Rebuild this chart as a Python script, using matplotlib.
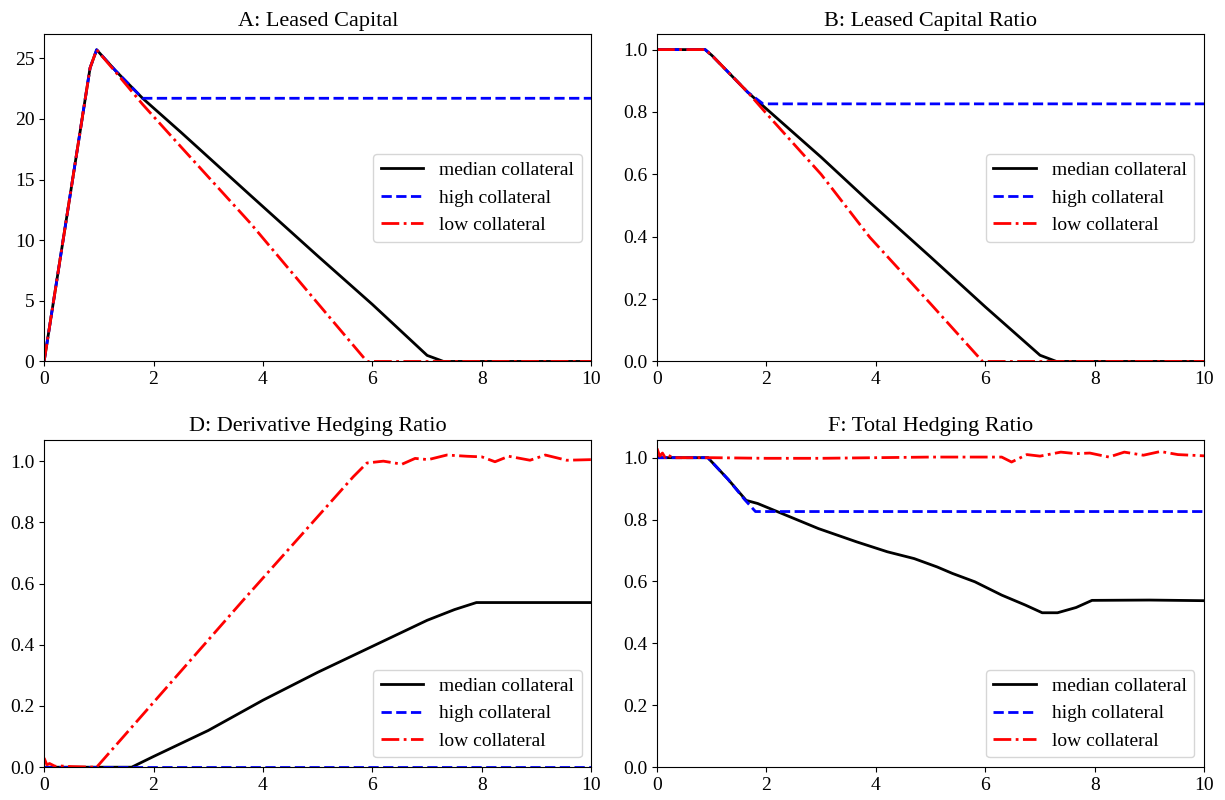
import matplotlib.pyplot as plt
import numpy as np

plt.rcParams['font.family'] = ['Liberation Serif', 'DejaVu Serif']
plt.rcParams['font.size'] = 11

# A: leased capital
t_a_med = [0, 0.84, 0.96, 1.3, 1.8, 2.5, 3.77, 5, 6, 7.0, 7.3, 10]
a_med = [0, 24.2, 25.7, 24.0, 21.7, 18.9, 13.7, 8.7, 4.7, 0.5, 0, 0]
t_a_high = [0, 0.84, 0.96, 1.3, 1.8, 10]
a_high = [0, 24.2, 25.7, 24.0, 21.7, 21.7]
t_a_low = [0, 0.84, 0.96, 1.3, 1.8, 2.5, 3.77, 5, 5.9, 10]
a_low = [0, 24.2, 25.7, 23.9, 21.2, 17.7, 11.4, 4.8, 0, 0]

# B: leased capital ratio
t_b_med = [0, 0.88, 1.0, 1.66, 2, 3, 3.89, 5, 6, 7, 7.3, 10]
b_med = [1, 1, 0.982, 0.863, 0.81, 0.655, 0.51, 0.335, 0.175, 0.02, 0, 0]
t_b_high = [0, 0.88, 1.0, 1.66, 1.94, 10]
b_high = [1, 1, 0.982, 0.863, 0.826, 0.826]
t_b_low = [0, 0.88, 1.0, 1.66, 2, 3, 3.89, 5, 5.95, 10]
b_low = [1, 1, 0.982, 0.863, 0.795, 0.6, 0.398, 0.185, 0, 0]

# D: derivative hedging ratio
t_d_med = [0, 1.6, 2, 3, 4, 5, 6, 7, 7.5, 7.9, 10]
d_med = [0, 0, 0.035, 0.12, 0.219, 0.31, 0.395, 0.48, 0.515, 0.538, 0.538]
t_d_high = [0, 10]
d_high = [0, 0]
t_d_low = [0, 0.05, 0.1, 0.2, 0.3, 0.5, 0.96, 3.64, 5.65, 5.9, 6.2, 6.54, 6.78,
           7.02, 7.36, 7.73, 8.0, 8.24, 8.49, 8.88, 9.16, 9.55, 10]
d_low = [0.03, 0.008, 0.012, 0.003, 0.004, 0.002, 0, 0.546, 0.949, 0.994, 1.0, 0.99,
         1.009, 1.005, 1.02, 1.016, 1.014, 0.998, 1.016, 1.003, 1.02, 1.003, 1.005]

# F: total hedging ratio
t_f_med = [0, 0.93, 1.3, 1.63, 1.84, 2.95, 3.65, 4.21, 4.7, 5.12, 5.4, 5.81, 6.3,
           6.73, 7.04, 7.32, 7.66, 7.95, 9, 10]
f_med = [1, 1, 0.93, 0.862, 0.852, 0.771, 0.728, 0.696, 0.674, 0.647, 0.626, 0.599,
         0.556, 0.524, 0.499, 0.499, 0.516, 0.539, 0.54, 0.538]
t_f_high = [0, 0.93, 1.3, 1.6, 1.8, 10]
f_high = [1, 1, 0.93, 0.865, 0.826, 0.826]
t_f_low = [0, 0.05, 0.1, 0.15, 0.2, 0.3, 1.0, 2, 3, 4, 5, 6.3, 6.48, 6.76, 7.0,
           7.38, 7.66, 7.91, 8.26, 8.54, 8.89, 9.2, 9.52, 10]
f_low = [1.03, 1.005, 1.015, 1.0, 1.008, 1.0, 1.0, 0.998, 0.998, 1.0, 1.002, 1.002,
         0.986, 1.01, 1.005, 1.018, 1.013, 1.015, 1.002, 1.018, 1.008, 1.02, 1.01, 1.006]

panels = [
    ('A: Leased Capital', (t_a_med, a_med), (t_a_high, a_high), (t_a_low, a_low), 27.0, 'center right'),
    ('B: Leased Capital Ratio', (t_b_med, b_med), (t_b_high, b_high), (t_b_low, b_low), 1.05, 'center right'),
    ('D: Derivative Hedging Ratio', (t_d_med, d_med), (t_d_high, d_high), (t_d_low, d_low), 1.07, 'lower right'),
    ('F: Total Hedging Ratio', (t_f_med, f_med), (t_f_high, f_high), (t_f_low, f_low), 1.058, 'lower right'),
]

fig, axes = plt.subplots(2, 2, figsize=(12.25, 8), dpi=100)
fig.subplots_adjust(left=0.036, right=0.983, bottom=0.041, top=0.9575, wspace=0.12, hspace=0.239)

for ax, (title, med, high, low, ytop, loc) in zip(axes.flat, panels):
    ax.plot(*med, color='black', lw=2, label='median collateral')
    ax.plot(*high, color='blue', lw=2, ls='--', label='high collateral')
    ax.plot(*low, color='red', lw=2, ls='-.', label='low collateral')
    ax.set_xlim(0, 10)
    ax.set_ylim(0, ytop)
    ax.set_xticks(np.arange(0, 11, 2))
    ax.set_title(title, fontsize=16)
    ax.tick_params(labelsize=14)
    ax.legend(loc=loc, fontsize=14, handlelength=2.2)

axes[0, 0].set_yticks(np.arange(0, 26, 5))
for ax in [axes[0, 1], axes[1, 0], axes[1, 1]]:
    ax.set_yticks(np.arange(0, 1.01, 0.2))

plt.savefig('out.png')
